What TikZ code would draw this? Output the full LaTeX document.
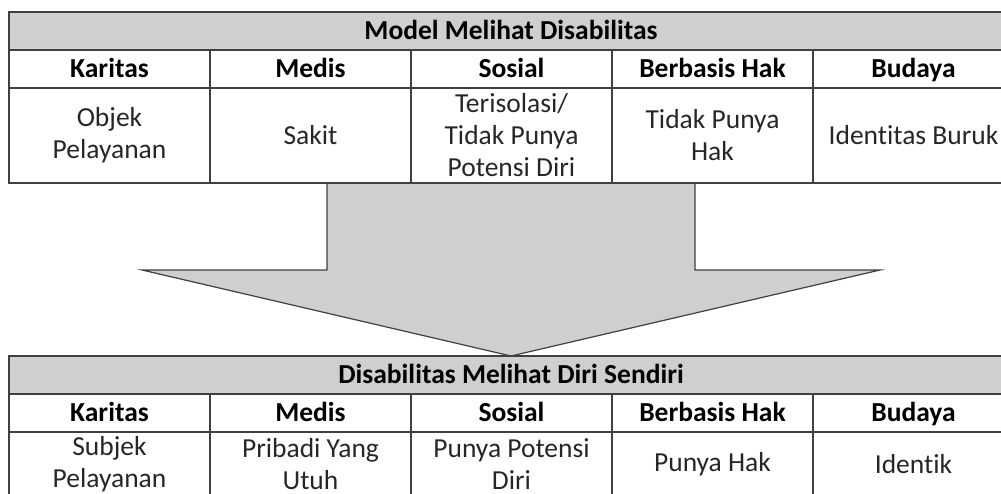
\documentclass[tikz,border=0pt]{standalone}
\usepackage{fontspec}
\setmainfont[Ligatures=NoCommon]{Carlito}
\definecolor{cellfill}{HTML}{D0CECF}
\definecolor{rulegray}{HTML}{404040}
\definecolor{textgray}{HTML}{262626}

\begin{document}
\begin{tikzpicture}[x=1pt,y=-1pt,
  cell/.style={draw=rulegray, line width=1.3pt, minimum width=201pt, inner sep=0pt,
    align=center, text=textgray, font=\fontsize{27.5}{32}\selectfont},
  titlecell/.style={cell, fill=cellfill, minimum width=1004pt, minimum height=38pt,
    text height=17.6pt, text depth=0pt,
    text=black, font=\fontsize{27.5}{32}\selectfont\bfseries},
  headcell/.style={cell, minimum height=38pt, text height=17.6pt, text depth=0pt,
    text=black, font=\fontsize{27.5}{32}\selectfont\bfseries},
  bodycell/.style={cell, minimum height=95pt},
  lowcell/.style={cell, minimum height=64pt},
  bigarrow/.style={draw=rulegray, line width=1.2pt, fill=cellfill, line join=miter}]
  \useasboundingbox (0,0) rectangle (1001,494);
  \clip (0,0) rectangle (1001,494);

  % arrow between the two tables
  \draw[bigarrow] (327,184) -- (327,270) -- (142,270) -- (511,356)
    -- (880,270) -- (695,270) -- (695,184);

  % top table
  \node[titlecell] (topTitle) at (511,31) {Model Melihat Disabilitas};
  \foreach \txt [count=\i] in {Karitas, Medis, Sosial, Berbasis Hak, Budaya}
    \node[headcell] (topHead\i) at ({109.5+201*(\i-1)},69) {\txt};
  \foreach \txt [count=\i] in {{Objek\\Pelayanan}, Sakit,
      {Terisolasi/\\Tidak Punya\\Potensi Diri}, {Tidak Punya\\Hak}, Identitas Buruk}
    \node[bodycell] (topBody\i) at ({109.5+201*(\i-1)},135.5) {\txt};

  % bottom table
  \node[titlecell] (lowTitle) at (511,375) {Disabilitas Melihat Diri Sendiri};
  \foreach \txt [count=\i] in {Karitas, Medis, Sosial, Berbasis Hak, Budaya}
    \node[headcell] (lowHead\i) at ({109.5+201*(\i-1)},413) {\txt};
  \foreach \txt [count=\i] in {{Subjek\\Pelayanan}, {Pribadi Yang\\Utuh},
      {Punya Potensi\\Diri}, Punya Hak, Identik}
    \node[lowcell] (lowBody\i) at ({109.5+201*(\i-1)},464) {\txt};
\end{tikzpicture}
\end{document}
